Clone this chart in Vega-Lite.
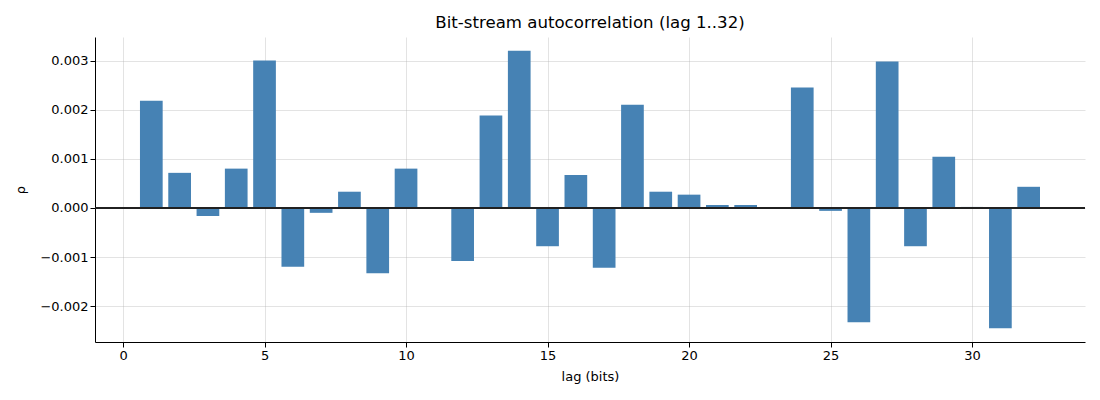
{
  "$schema": "https://vega.github.io/schema/vega-lite/v6.json",
  "width": 990,
  "height": 305,
  "autosize": "none",
  "padding": {"left": 95, "top": 37, "right": 15, "bottom": 58},
  "background": "white",
  "title": {
    "text": "Bit-stream autocorrelation (lag 1..32)",
    "font": "DejaVu Sans",
    "fontSize": 16.6,
    "fontWeight": "normal",
    "color": "black",
    "offset": 5
  },
  "config": {
    "view": {"stroke": null},
    "axis": {
      "labelFont": "DejaVu Sans",
      "labelFontSize": 13,
      "labelColor": "black",
      "titleFont": "DejaVu Sans",
      "titleFontSize": 13,
      "titleFontWeight": "normal",
      "titleColor": "black",
      "domainColor": "black",
      "tickColor": "black",
      "tickSize": 5,
      "gridColor": "#b0b0b0",
      "gridOpacity": 0.35,
      "zindex": 1
    }
  },
  "data": {
    "values": [
      {"lag": 1, "rho": 0.00218},
      {"lag": 2, "rho": 0.000714},
      {"lag": 3, "rho": -0.000163},
      {"lag": 4, "rho": 0.0008},
      {"lag": 5, "rho": 0.0030},
      {"lag": 6, "rho": -0.0012},
      {"lag": 7, "rho": -0.0001},
      {"lag": 8, "rho": 0.00033},
      {"lag": 9, "rho": -0.00133},
      {"lag": 10, "rho": 0.0008},
      {"lag": 11, "rho": 0.000003},
      {"lag": 12, "rho": -0.00108},
      {"lag": 13, "rho": 0.00188},
      {"lag": 14, "rho": 0.0032},
      {"lag": 15, "rho": -0.00078},
      {"lag": 16, "rho": 0.00067},
      {"lag": 17, "rho": -0.00122},
      {"lag": 18, "rho": 0.0021},
      {"lag": 19, "rho": 0.00033},
      {"lag": 20, "rho": 0.00027},
      {"lag": 21, "rho": 0.00006},
      {"lag": 22, "rho": 0.00006},
      {"lag": 23, "rho": 0.000003},
      {"lag": 24, "rho": 0.00245},
      {"lag": 25, "rho": -0.00006},
      {"lag": 26, "rho": -0.00233},
      {"lag": 27, "rho": 0.00298},
      {"lag": 28, "rho": -0.00078},
      {"lag": 29, "rho": 0.00104},
      {"lag": 30, "rho": 0.00002},
      {"lag": 31, "rho": -0.00245},
      {"lag": 32, "rho": 0.00043}
    ]
  },
  "layer": [
    {
      "mark": {"type": "bar", "color": "#4682b4", "size": 22.7},
      "encoding": {
        "x": {
          "field": "lag",
          "type": "quantitative",
          "title": "lag (bits)",
          "scale": {"domain": [-0.99, 33.99], "nice": false, "zero": false, "padding": 0},
          "axis": {"values": [0, 5, 10, 15, 20, 25, 30], "format": "d", "titlePadding": 8}
        },
        "y": {
          "field": "rho",
          "type": "quantitative",
          "title": "ρ",
          "scale": {"domain": [-0.00273, 0.00348], "nice": false, "padding": 0},
          "axis": {
            "values": [-0.002, -0.001, 0, 0.001, 0.002, 0.003],
            "labelExpr": "replace(format(datum.value, '.3f'), '-', '\u2212')",
            "titlePadding": 12
          }
        }
      }
    },
    {
      "mark": {"type": "rule", "color": "#222222", "strokeWidth": 1},
      "encoding": {"y": {"datum": 0}}
    }
  ]
}
